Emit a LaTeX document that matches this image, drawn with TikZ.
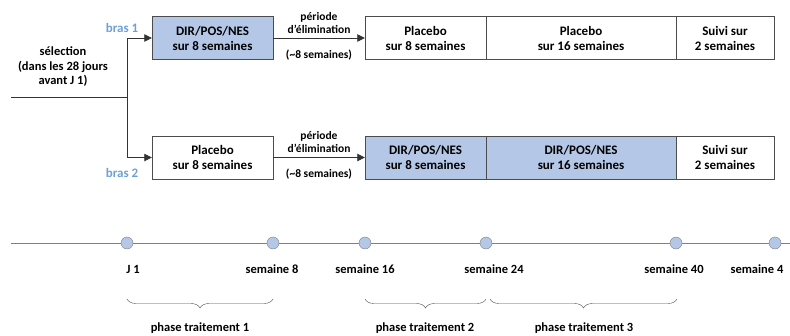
\documentclass[tikz,border=0pt]{standalone}
\usepackage{fontspec}
\setmainfont{Carlito}
\usetikzlibrary{arrows.meta,positioning,decorations.pathreplacing}
\definecolor{armblue}{RGB}{180,199,231}
\definecolor{armlabel}{RGB}{110,160,215}
\definecolor{linegray}{RGB}{128,128,128}

\begin{document}
\begin{tikzpicture}[
  x=1pt, y=-1pt,
  font=\bfseries\fontsize{12.5}{14.5}\selectfont,
  >={Triangle[length=7.5pt,width=7.5pt]},
  phasebox/.style={draw=black!70, minimum height=43pt, align=center, inner sep=0pt,
    font=\bfseries\fontsize{13}{15}\selectfont},
  drugbox/.style={fill=armblue},
  armtag/.style={text=armlabel, font=\bfseries\fontsize{13}{15}\selectfont},
  washlabel/.style={font=\bfseries\fontsize{11.5}{12.5}\selectfont, align=center},
  tick/.style={circle, draw=linegray, fill=armblue, minimum size=12pt, inner sep=0pt},
  ticklabel/.style={font=\bfseries\fontsize{12.5}{14}\selectfont},
  phasebrace/.style={draw=black!70, decorate, decoration={brace, mirror, amplitude=9pt}},
]
\useasboundingbox (0,0) rectangle (790,335);

% Selection and split
\node[align=center] (sel) at (63,67) {sélection\\(dans les 28 jours\\avant J 1)};
\coordinate (start) at (11,97);
\coordinate (split) at (127,97);

% ========== bras 1 (top) ==========
\node[phasebox, drugbox, minimum width=121pt] (a1) at (212.5,38) {DIR/POS/NES\\sur 8 semaines};
\node[phasebox, minimum width=121pt] (a2) at (425.5,38) {Placebo\\sur 8 semaines};
\node[phasebox, minimum width=190pt] (a3) at (581,38) {Placebo\\sur 16 semaines};
\node[phasebox, minimum width=98pt] (a4) at (725,38) {Suivi sur\\2 semaines};
\node[armtag] (tag1) at (122,28) {bras 1};
\node[washlabel] (wash1) at (319,23) {période\\d’élimination};
\node[washlabel] (wait1) at (319,55) {(\textasciitilde8 semaines)};

% ========== bras 2 (bottom) ==========
\node[phasebox, minimum width=121pt] (b1) at (212.5,157.5) {Placebo\\sur 8 semaines};
\node[phasebox, drugbox, minimum width=121pt] (b2) at (425.5,157.5) {DIR/POS/NES\\sur 8 semaines};
\node[phasebox, drugbox, minimum width=190pt] (b3) at (581,157.5) {DIR/POS/NES\\sur 16 semaines};
\node[phasebox, minimum width=98pt] (b4) at (725,157.5) {Suivi sur\\2 semaines};
\node[armtag] (tag2) at (122,173) {bras 2};
\node[washlabel] (wash2) at (319,142) {période\\d’élimination};
\node[washlabel] (wait2) at (319,174) {(\textasciitilde8 semaines)};

% Connectors
\draw[black!80, line width=0.8pt] (start) -- (split);
\draw[->, black!80, line width=0.8pt] (split) |- (a1.west);
\draw[->, black!80, line width=0.8pt] (split) |- (b1.west);
\draw[->, black!80, line width=0.8pt] (a1) -- (a2);
\draw[->, black!80, line width=0.8pt] (b1) -- (b2);

% ========== timeline ==========
\coordinate (tstart) at (11,243);
\coordinate (tend) at (790,243);
\draw[linegray, line width=0.9pt] (tstart) -- (tend);
\node[tick] (t1) at (127,243) {};
\node[tick] (t2) at (273,243) {};
\node[tick] (t3) at (365,243) {};
\node[tick] (t4) at (486,243) {};
\node[tick] (t5) at (676,243) {};
\node[tick] (t6) at (775,243) {};
\node[ticklabel] (l1) at (133,269) {J 1};
\node[ticklabel] (l2) at (272,269) {semaine 8};
\node[ticklabel] (l3) at (365,269) {semaine 16};
\node[ticklabel] (l4) at (494,269) {semaine 24};
\node[ticklabel] (l5) at (674,269) {semaine 40};
\node[ticklabel, anchor=west] (l6) at (727,269) {semaine 4};

% Braces
\coordinate (p1a) at (127,299);
\coordinate (p1b) at (273,299);
\coordinate (p2a) at (365,299);
\coordinate (p2b) at (486,299);
\coordinate (p3a) at (490,299);
\coordinate (p3b) at (677,299);
\draw[phasebrace] (p1a) -- (p1b);
\draw[phasebrace] (p2a) -- (p2b);
\draw[phasebrace] (p3a) -- (p3b);
\node[ticklabel] (ph1) at (200,328) {phase traitement 1};
\node[ticklabel] (ph2) at (425,328) {phase traitement 2};
\node[ticklabel] (ph3) at (584,328) {phase traitement 3};

\end{tikzpicture}
\end{document}
